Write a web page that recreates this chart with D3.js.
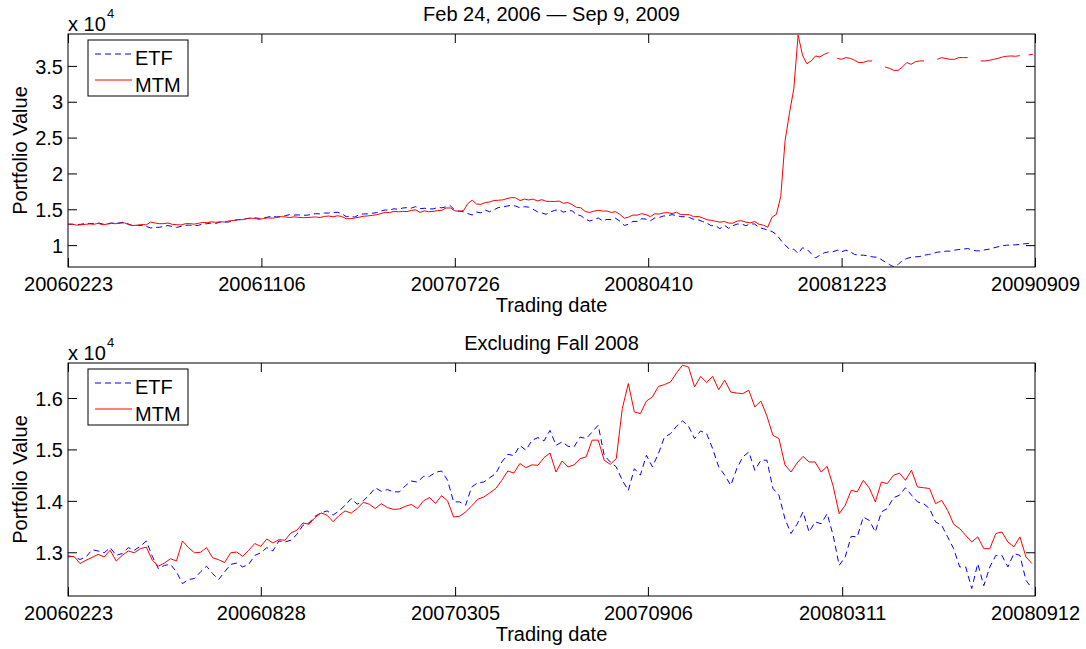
<!DOCTYPE html>
<html><head><meta charset="utf-8">
<script src="https://cdn.jsdelivr.net/npm/d3@7"></script>
<style>
body{margin:0;background:#fff;}
svg{display:block;font-family:"Liberation Sans",Arial,Helvetica,sans-serif;}
</style></head><body>
<svg id="chart" width="1086" height="649"></svg>
<script>
// ---- data (portfolio values, one sample every 4 trading days starting 2006-02-23) ----
const sampleStep = 4;
const etfToSep2008 = [
12930,12910,12860,12910,13050,13025,12990,13090,12940,12975,
13090,13040,13115,13220,12920,12680,12745,12765,12620,12390,
12470,12490,12620,12730,12585,12470,12620,12765,12790,12715,
12765,12940,12990,13090,13025,13220,13200,13235,13350,13525,
13570,13700,13765,13805,13725,13805,13915,14045,13935,14000,
14110,14255,14185,14220,14175,14175,14295,14385,14365,14475,
14475,14555,14580,14400,13980,13980,13915,14270,14350,14365,
14450,14530,14755,14905,14880,15075,14985,15175,15230,15165,
15370,15080,15145,15060,15050,15240,15210,15340,15470,14885,
14755,14660,14400,14200,14625,14500,14885,14660,14920,15240,
15305,15450,15555,15450,15210,15360,15305,15015,14660,14500,
14300,14625,14855,14950,14595,14790,14790,14240,14110,13650,
13365,13545,13785,13395,13590,13555,13750,13330,12745,12910,
13310,13300,13685,13620,13395,13785,13850,14060,14110,14255,
14110,13980,13945,13850,13590,13525,13300,13070,12715,12715,
12295,12780,12350,12715,12940,12940,12715,12975,12940,12455,
12295];
const mtmToSep2008 = [
12910,12920,12780,12845,12900,12960,12910,13040,12830,12940,
13025,12990,13070,13100,12845,12730,12790,12875,12830,13220,
13090,12990,13000,13090,12895,12855,12800,12990,13005,12920,
13040,13170,13115,13260,13180,13245,13235,13375,13430,13570,
13545,13675,13765,13720,13595,13715,13805,13760,13850,13970,
13935,13850,13945,13870,13835,13840,13895,13930,13850,14000,
14065,13950,14100,14000,13685,13700,13785,13900,14030,14075,
14155,14240,14400,14580,14540,14725,14645,14700,14690,14840,
14930,14560,14775,14660,14700,14820,14855,15180,15180,14790,
14710,14820,15795,16280,15730,15695,15940,16020,16225,16260,
16310,16485,16640,16600,16215,16420,16300,16420,16160,16345,
16115,16095,16085,16150,15825,15940,15650,15275,15210,14700,
14560,14735,14865,14755,14755,14560,14670,14285,13750,13915,
14205,14175,14400,14250,13980,14365,14335,14495,14540,14400,
14595,14270,14255,14240,13945,14010,13815,13545,13460,13330,
13200,13300,13070,13070,13365,13395,13200,13105,13300,12910,
12780];
const etfAfterSep2008 = [
12100,11900,11490,10700,10000,9440,9440,8830,9630,9440,
8830,8220,8600,8930,9070,9070,9300,9070,9300,9070,
8690,8600,8600,8505,8365,8320,8040,7665,7290,6960,
7290,7900,8130,8320,8365,8410,8600,8690,8830,9020,
9070,9160,9160,9300,9390,9440,9530,9345,9205,9205,
9345,9440,9630,9770,9905,10000,10000,10045,10090,10185,
10230,10370];
const mtmAfterSep2008 = [
12500,13900,14300,16800,24600,28400,31800,39300,36500,35300,
35690,36390,36250,36620,36860,null,36060,35920,36160,36060,
35780,35460,35500,35690,35690,null,null,34850,34660,34380,
34380,34850,35460,35220,35600,35690,35690,null,null,35920,
36160,36020,35920,35920,36160,36160,36160,null,null,35690,
35690,35780,35920,36060,36250,36340,36390,36340,36440,null,
36530,36620];

const fullTickDays = [0,178,356,534,712,890];
const fullTickLabels = ["20060223","20061106","20070726","20080410","20081223","20090909"];
const partTickDays = [0,128,257,385,514,642];
const partTickLabels = ["20060223","20060828","20070305","20070906","20080311","20080912"];
const fullYTicks = [10000,15000,20000,25000,30000,35000];
const partYTicks = [13000,14000,15000,16000];
const fullYLimits = [6950,39450];
const partYLimits = [12150,16680];
const fullLastDay = 890, partLastDay = 642;
const titles = ["Feb 24, 2006 \u2014 Sep 9, 2009","Excluding Fall 2008"];
const seriesNames = ["ETF","MTM"];

// ---- drawing ----
const svg = d3.select("#chart");
const L = 68, R = 1035;
const FS = 20;

function toPoints(vals){ return vals.map((v,i)=>({d:i*sampleStep, v:v})); }

function panel(cfg){
  const {top, bottom, etf, mtm, lastDay, tickDays, tickLabels, yTicks, yLim, title, id} = cfg;
  const x = d3.scaleLinear().domain([0,lastDay]).range([L,R]);
  const y = d3.scaleLinear().domain(yLim).range([bottom,top]);
  const g = svg.append("g");

  g.append("clipPath").attr("id","clip"+id).append("rect")
    .attr("x",L).attr("y",top).attr("width",R-L).attr("height",bottom-top);

  const line = d3.line().defined(p=>p.v!=null).x(p=>x(p.d)).y(p=>y(p.v));
  const plot = g.append("g").attr("clip-path","url(#clip"+id+")");
  plot.append("path").datum(toPoints(etf)).attr("d",line)
    .attr("fill","none").attr("stroke","#0000ff").attr("stroke-width",1)
    .attr("stroke-dasharray","6,4");
  plot.append("path").datum(toPoints(mtm)).attr("d",line)
    .attr("fill","none").attr("stroke","#ff0000").attr("stroke-width",1);

  const tl = 9;
  const ax = g.append("g").attr("transform",`translate(0,${bottom})`)
    .call(d3.axisBottom(x).tickValues(tickDays).tickFormat((d,i)=>tickLabels[i]).tickSizeInner(-tl).tickSizeOuter(0));
  ax.selectAll("text").attr("y",24).attr("dy",null);
  const axT = g.append("g").attr("transform",`translate(0,${top})`)
    .call(d3.axisTop(x).tickValues(tickDays).tickFormat("").tickSizeInner(-tl).tickSizeOuter(0));
  const ay = g.append("g").attr("transform",`translate(${L},0)`)
    .call(d3.axisLeft(y).tickValues(yTicks).tickFormat(v=>d3.format("~g")(v/10000)).tickSizeInner(-tl).tickSizeOuter(0).tickPadding(5));
  ay.selectAll("text").attr("dy","0.36em");
  const ayR = g.append("g").attr("transform",`translate(${R},0)`)
    .call(d3.axisRight(y).tickValues(yTicks).tickFormat("").tickSizeInner(-tl).tickSizeOuter(0));
  [ax,axT,ay,ayR].forEach(a=>{
    a.select(".domain").remove();
    a.selectAll("line").attr("stroke","#000");
    a.selectAll("text").attr("font-size",FS).attr("fill","#000")
      .attr("font-family",'"Liberation Sans",Arial,Helvetica,sans-serif');
  });

  g.append("rect").attr("x",L).attr("y",top).attr("width",R-L).attr("height",bottom-top)
    .attr("fill","none").attr("stroke","#000").attr("stroke-width",1);

  // exponent label
  g.append("text").attr("x",L).attr("y",top-3.5).attr("font-size",FS).text("x 10");
  g.append("text").attr("x",L+39).attr("y",top-16).attr("font-size",13).text("4");

  // title & axis labels
  g.append("text").attr("x",(L+R)/2).attr("y",top-13).attr("text-anchor","middle")
    .attr("font-size",FS).text(title);
  g.append("text").attr("x",(L+R)/2).attr("y",bottom+45).attr("text-anchor","middle")
    .attr("font-size",FS).text("Trading date");
  g.append("text").attr("transform",`translate(27,${(top+bottom)/2}) rotate(-90)`)
    .attr("text-anchor","middle").attr("font-size",FS).text("Portfolio Value");

  // legend
  const lg = g.append("g");
  lg.append("rect").attr("x",88).attr("y",top+6).attr("width",100).attr("height",56)
    .attr("fill","#fff").attr("stroke","#000").attr("stroke-width",1);
  lg.append("line").attr("x1",95).attr("x2",132).attr("y1",top+20).attr("y2",top+20)
    .attr("stroke","#0000ff").attr("stroke-dasharray","6,4");
  lg.append("line").attr("x1",95).attr("x2",132).attr("y1",top+46).attr("y2",top+46)
    .attr("stroke","#ff0000");
  lg.append("text").attr("x",135).attr("y",top+31).attr("font-size",FS).text(seriesNames[0]);
  lg.append("text").attr("x",135).attr("y",top+58).attr("font-size",FS).text(seriesNames[1]);
}

panel({id:1, top:34, bottom:267,
  etf: etfToSep2008.concat(etfAfterSep2008), mtm: mtmToSep2008.concat(mtmAfterSep2008),
  lastDay: fullLastDay, tickDays: fullTickDays, tickLabels: fullTickLabels,
  yTicks: fullYTicks, yLim: fullYLimits, title: titles[0]});
panel({id:2, top:363, bottom:596,
  etf: etfToSep2008, mtm: mtmToSep2008,
  lastDay: partLastDay, tickDays: partTickDays, tickLabels: partTickLabels,
  yTicks: partYTicks, yLim: partYLimits, title: titles[1]});
</script>
</body></html>
